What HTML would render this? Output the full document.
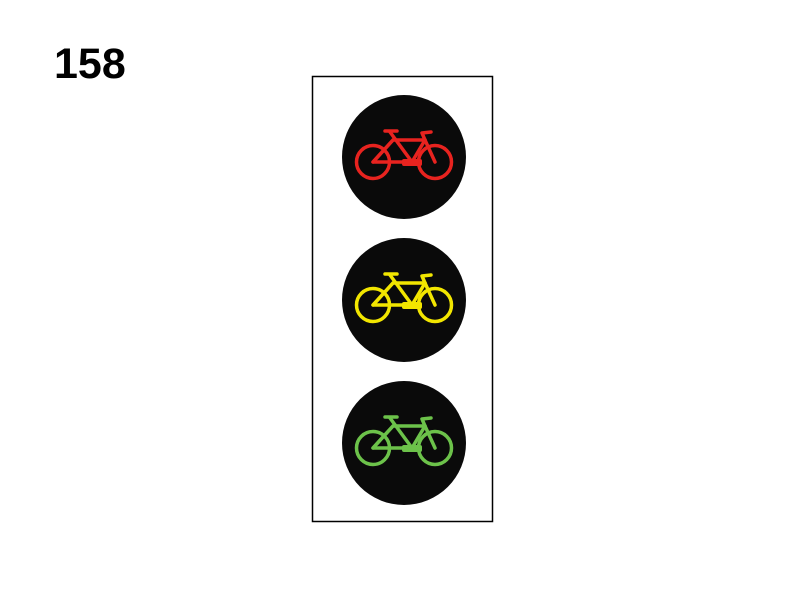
<!DOCTYPE html>
<html><head><meta charset="utf-8"><style>
html,body{margin:0;padding:0;background:#fff;}
svg{display:block;}
</style></head><body>
<svg width="800" height="600" viewBox="0 0 800 600">
<defs>
<g id="bike" fill="none" stroke-width="3.5" stroke-linecap="round" stroke-linejoin="round">
  <circle cx="-31" cy="5" r="16.5"/>
  <circle cx="31" cy="5" r="16.5"/>
  <path d="M-31 5 L8 5 L21 -17 L-11 -17 Z"/>
  <path d="M-31 5 L-11 -17"/>
  <path d="M8 5 L-14 -25"/>
  <path d="M-19 -26 L-7 -26"/>
  <path d="M21 -17 L31 5"/>
  <path d="M21 -17 L18 -24 L27 -25"/>
  <rect x="-2" y="2" width="20" height="7" rx="2" stroke="none" fill="currentColor"/>
</g>
</defs>
<text x="54" y="78" font-family="Liberation Sans, sans-serif" font-weight="bold" font-size="43" fill="#000">158</text>
<rect x="312.5" y="76.5" width="180" height="445" fill="#fff" stroke="#000" stroke-width="1.5"/>
<g>
  <circle cx="404" cy="157" r="62" fill="#0a0a0a"/>
  <use href="#bike" x="404" y="157" stroke="#e8231f" style="color:#e8231f"/>
</g>
<g>
  <circle cx="404" cy="300" r="62" fill="#0a0a0a"/>
  <use href="#bike" x="404" y="300" stroke="#f2e600" style="color:#f2e600"/>
</g>
<g>
  <circle cx="404" cy="443" r="62" fill="#0a0a0a"/>
  <use href="#bike" x="404" y="443" stroke="#6cc24a" style="color:#6cc24a"/>
</g>
</svg>
</body></html>
